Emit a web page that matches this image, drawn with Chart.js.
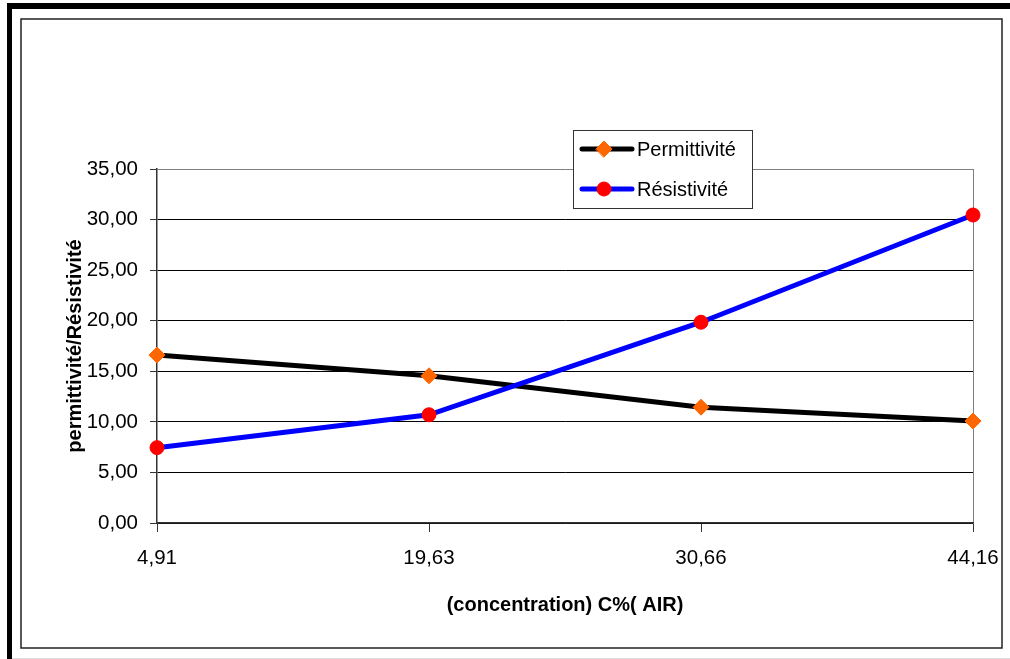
<!DOCTYPE html>
<html>
<head>
<meta charset="utf-8">
<script src="https://cdn.jsdelivr.net/npm/chart.js@4.4.1/dist/chart.umd.min.js"></script>
<style>
  html, body { margin: 0; padding: 0; background: #fff; }
  #wrap { position: relative; width: 1010px; height: 659px; }
</style>
</head>
<body>
<div id="wrap"><canvas id="myChart" width="1010" height="659"></canvas></div>
<script>
// data block
const concentrations = ["4,91", "19,63", "30,66", "44,16"];
const permittivite = [16.6, 14.55, 11.45, 10.08];
const resistivite = [7.45, 10.7, 19.85, 30.45];
const yTicks = [0, 5, 10, 15, 20, 25, 30, 35];

const FONT = "'Liberation Sans', Arial, sans-serif";

// frames around the whole picture (Excel style)
const framePlugin = {
  id: "frames",
  beforeDraw(chart) {
    const ctx = chart.ctx;
    ctx.save();
    ctx.fillStyle = "#fff";
    ctx.fillRect(0, 0, chart.width, chart.height);
    ctx.fillStyle = "#000";
    ctx.fillRect(7, 3, 1003, 6); // thick top
    ctx.fillRect(7, 3, 5, 656); // thick left
    ctx.strokeStyle = "#222";
    ctx.lineWidth = 1.5;
    ctx.strokeRect(21, 19, 981, 629); // inner frame
    ctx.strokeStyle = "#ddd";
    ctx.lineWidth = 1;
    ctx.beginPath();
    ctx.moveTo(12, 658.5);
    ctx.lineTo(1010, 658.5);
    ctx.stroke();
    ctx.restore();
  },
};

// legend box drawn inside the plot like the original
const legendPlugin = {
  id: "boxLegend",
  afterDraw(chart) {
    const ctx = chart.ctx;
    ctx.save();
    ctx.fillStyle = "#fff";
    ctx.fillRect(573, 130, 179, 78);
    ctx.strokeStyle = "#333";
    ctx.lineWidth = 1;
    ctx.strokeRect(573.5, 130.5, 179, 78);
    const rows = [149, 189];
    chart.data.datasets.forEach((ds, i) => {
      const y = rows[i];
      ctx.strokeStyle = ds.borderColor;
      ctx.lineWidth = 5;
      ctx.lineCap = "round";
      ctx.beginPath();
      ctx.moveTo(582, y);
      ctx.lineTo(632, y);
      ctx.stroke();
      ctx.fillStyle = ds.pointBackgroundColor;
      ctx.strokeStyle = ds.pointBorderColor;
      ctx.lineWidth = 1;
      Chart.helpers.drawPoint(ctx, { pointStyle: ds.pointStyle, radius: ds.pointRadius, borderWidth: 1 }, 604, y);
      ctx.fillStyle = "#000";
      ctx.font = "20px " + FONT;
      ctx.textBaseline = "middle";
      ctx.fillText(ds.label, 637, y + 1);
    });
    ctx.restore();
  },
};

const data = {
  labels: concentrations,
  datasets: [
    {
      label: "Permittivité",
      data: permittivite,
      borderColor: "#000000",
      borderWidth: 5,
      pointStyle: "rectRot",
      pointRadius: 8,
      pointBackgroundColor: "#FF6600",
      pointBorderColor: "#FF6600",
      pointBorderWidth: 1,
      tension: 0,
      clip: false,
      order: 1,
    },
    {
      label: "Résistivité",
      data: resistivite,
      borderColor: "#0000FF",
      borderWidth: 5,
      pointStyle: "circle",
      pointRadius: 7,
      pointBackgroundColor: "#FF0000",
      pointBorderColor: "#FF0000",
      pointBorderWidth: 1,
      tension: 0,
      clip: false,
      order: 0,
    },
  ],
};

// config block
const config = {
  type: "line",
  data: data,
  options: {
    responsive: false,
    animation: false,
    layout: { padding: { top: 169, right: 37, left: 0, bottom: 0 } },
    plugins: {
      legend: { display: false },
      tooltip: { enabled: false },
    },
    scales: {
      x: {
        type: "category",
        offset: false,
        grid: {
          color: (c) => (c.index === concentrations.length - 1 ? "#808080" : "rgba(0,0,0,0)"),
          tickColor: "#333",
          tickLength: 9,
          lineWidth: 1,
        },
        border: { color: "#333", width: 1.5 },
        ticks: {
          color: "#000",
          font: { family: FONT, size: 20.5 },
          padding: 14,
          maxRotation: 0,
          autoSkip: false,
        },
        title: {
          display: true,
          text: "(concentration) C%( AIR)",
          color: "#000",
          font: { family: FONT, size: 20, weight: "bold" },
          padding: { top: 0, bottom: 42 },
        },
        afterFit(scale) {
          scale.height = 136;
          scale.paddingLeft = 0;
          scale.paddingRight = 0;
        },
      },
      y: {
        min: 0,
        max: 35,
        afterBuildTicks(scale) {
          scale.ticks = yTicks.map((v) => ({ value: v }));
        },
        grid: {
          color: (c) => (c.tick && c.tick.value === 35 ? "#808080" : "#000"),
          tickColor: "#333",
          tickLength: 7,
          lineWidth: 1,
        },
        border: { color: "#333", width: 1.5 },
        ticks: {
          color: "#000",
          font: { family: FONT, size: 20.5 },
          padding: 12,
          callback: (v) => Number(v).toFixed(2).replace(".", ","),
        },
        title: {
          display: true,
          text: "permittivité/Résistivité",
          color: "#000",
          font: { family: FONT, size: 20, weight: "bold" },
          padding: { top: 63, bottom: 0 },
        },
        afterFit(scale) {
          scale.width = 157;
        },
      },
    },
  },
  plugins: [framePlugin, legendPlugin],
};

// render init block
const myChart = new Chart(document.getElementById("myChart"), config);
</script>
</body>
</html>
